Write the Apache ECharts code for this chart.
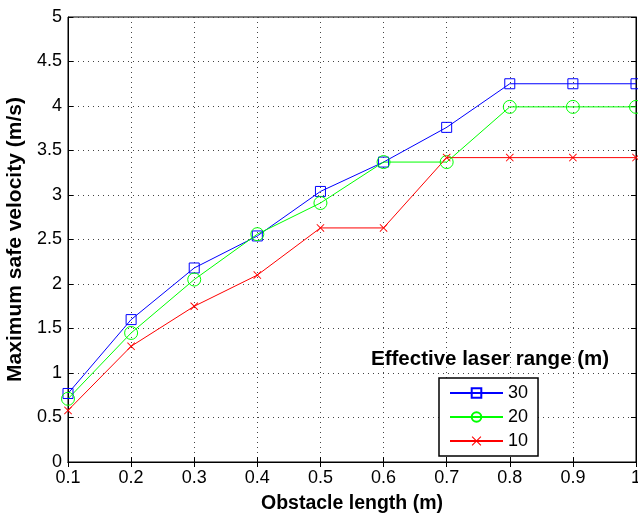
<!DOCTYPE html>
<html><head><meta charset="utf-8">
<script src="https://cdn.jsdelivr.net/npm/echarts@6/dist/echarts.min.js"></script>
<style>html,body{margin:0;padding:0;background:#fff}#c{width:638px;height:513px}</style>
</head><body><div id="c"></div>
<script>
const obstacleLength = [0.1,0.2,0.3,0.4,0.5,0.6,0.7,0.8,0.9,1.0];
const range30 = [0.77,1.60,2.18,2.54,3.04,3.37,3.76,4.25,4.25,4.25];
const range20 = [0.71,1.45,2.05,2.56,2.91,3.37,3.37,3.99,3.99,3.99];
const range10 = [0.58,1.30,1.75,2.10,2.63,2.63,3.42,3.42,3.42,3.42];
const seriesNames = ['30','20','10'];
const xTitle = 'Obstacle length (m)';
const yTitle = 'Maximum safe velocity (m/s)';
const legendTitle = 'Effective laser range (m)';

const FONT = '"Liberation Sans", Arial, Helvetica, sans-serif';
const pairs = v => obstacleLength.map((x,i)=>[x, v[i]]);
const xMark = 'path://M0,0.8L0.8,0L5,4.2L9.2,0L10,0.8L5.8,5L10,9.2L9.2,10L5,5.8L0.8,10L0,9.2L4.2,5Z';

const chart = echarts.init(document.getElementById('c'), null, {renderer:'canvas'});
const tickStyle = {show:true, inside:true, length:5, lineStyle:{color:'#000', width:1}};
const gridLine = {show:true, lineStyle:{color:'#444', width:1, type:[1,4]}};
chart.setOption({
  animation:false,
  backgroundColor:'#fff',
  title:{text:legendTitle, left:366, top:344,
    textStyle:{fontFamily:FONT, fontSize:20.5, fontWeight:'bold', color:'#000'}},
  legend:{
    data:seriesNames, orient:'vertical', left:439, top:378,
    itemWidth:53, itemHeight:12, itemGap:6, padding:[6,10,6,10],
    borderColor:'#000', borderWidth:1.5, backgroundColor:'#fff',
    textStyle:{fontFamily:FONT, fontSize:18, color:'#000'}
  },
  grid:{left:68, right:2, top:17, bottom:51, show:true, borderColor:'#000', borderWidth:1, outerBoundsMode:'none', containLabel:false},
  xAxis:[{
    type:'value', min:0.1, max:1, interval:0.1,
    name:xTitle, nameLocation:'middle', nameGap:32,
    nameTextStyle:{fontFamily:FONT, fontSize:19.5, fontWeight:'bold', color:'#000'},
    axisLine:{show:true, lineStyle:{color:'#000', width:1}},
    axisTick:tickStyle, splitLine:gridLine,
    axisLabel:{fontFamily:FONT, fontSize:18, color:'#000', margin:7, formatter:v=>String(+v.toFixed(2))}
  },{
    type:'value', min:0.1, max:1, interval:0.1, position:'top',
    axisLine:{show:true, lineStyle:{color:'#000'}}, axisTick:tickStyle,
    axisLabel:{show:false}, splitLine:{show:false}
  }],
  yAxis:[{
    type:'value', min:0, max:5, interval:0.5,
    name:yTitle, nameLocation:'middle', nameGap:41, nameRotate:90,
    nameTextStyle:{fontFamily:FONT, fontSize:21, fontWeight:'bold', color:'#000'},
    axisLine:{show:true, lineStyle:{color:'#000', width:1}},
    axisTick:tickStyle, splitLine:gridLine,
    axisLabel:{fontFamily:FONT, fontSize:18, color:'#000', margin:6, formatter:v=>String(+v.toFixed(2))}
  },{
    type:'value', min:0, max:5, interval:0.5, position:'right',
    axisLine:{show:true, lineStyle:{color:'#000'}}, axisTick:tickStyle,
    axisLabel:{show:false}, splitLine:{show:false}
  }],
  series:[
    {name:seriesNames[0], type:'line', data:pairs(range30), clip:false,
     symbol:'rect', symbolSize:10, lineStyle:{color:'#0000ff', width:1},
     itemStyle:{color:'rgba(0,0,0,0)', borderColor:'#0000ff', borderWidth:1}},
    {name:seriesNames[1], type:'line', data:pairs(range20), clip:false,
     symbol:'circle', symbolSize:13, lineStyle:{color:'#00ff00', width:1},
     itemStyle:{color:'rgba(0,0,0,0)', borderColor:'#00ff00', borderWidth:1}},
    {name:seriesNames[2], type:'line', data:pairs(range10), clip:false,
     symbol:xMark, symbolSize:8, lineStyle:{color:'#ff0000', width:1},
     itemStyle:{color:'#ff0000'}}
  ]
});
</script></body></html>
